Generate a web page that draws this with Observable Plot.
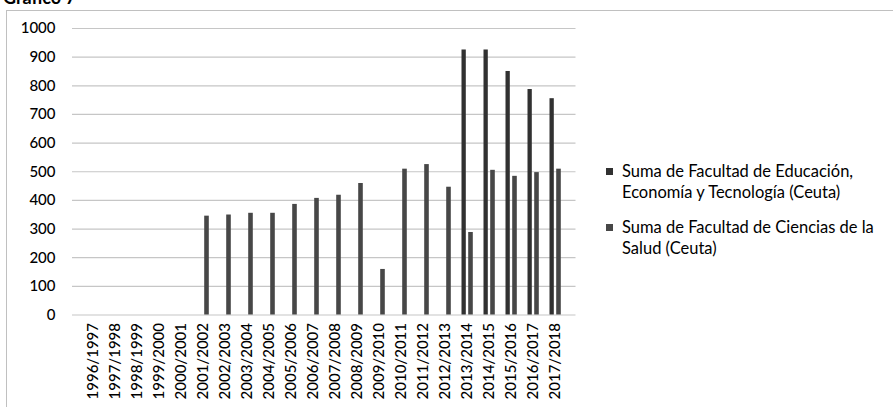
<!DOCTYPE html>
<html>
<head>
<meta charset="utf-8">
<script src="https://cdn.jsdelivr.net/npm/d3@7"></script>
<script src="https://cdn.jsdelivr.net/npm/@observablehq/plot@0.6"></script>
<style>
  html, body { margin: 0; padding: 0; background: #fff; overflow: hidden; }
  body { width: 893px; height: 407px; position: relative; font-family: Lato, "Open Sans", sans-serif; }
  #title { position: absolute; left: 3px; top: -14px; font-size: 18px; font-weight: bold; color: #000; white-space: nowrap; }
  #frame { position: absolute; left: 6px; top: 10px; width: 950px; height: 450px; border: 1px solid #c0c0c0; box-sizing: border-box; }
  #chart { position: absolute; left: 0; top: 0; }
  #legend { position: absolute; left: 606px; top: 161px; font-size: 16.5px; color: #000; line-height: 21px; }
  .item { position: relative; padding-left: 16px; margin-bottom: 14px; white-space: nowrap; }
  .sw { position: absolute; left: 0; top: 7px; width: 7px; height: 7px; }
</style>
</head>
<body>
<div id="frame"></div>
<div id="title">Gráfico 7</div>
<div id="chart"></div>
<div id="legend"></div>
<script>
const categories = ["1996/1997","1997/1998","1998/1999","1999/2000","2000/2001","2001/2002","2002/2003","2003/2004","2004/2005","2005/2006","2006/2007","2007/2008","2008/2009","2009/2010","2010/2011","2011/2012","2012/2013","2013/2014","2014/2015","2015/2016","2016/2017","2017/2018"];
const educacion = [null,null,null,null,null,null,null,null,null,null,null,null,null,null,null,null,null,925,925,850,787,755];
const salud = [null,null,null,null,null,345,349,355,355,386,407,418,459,159,509,525,446,288,505,484,497,509];
const seriesNames = ["Suma de Facultad de Educación, Economía y Tecnología (Ceuta)", "Suma de Facultad de Ciencias de la Salud (Ceuta)"];
const seriesColors = ["#313131", "#474747"];
const yTicks = [0,100,200,300,400,500,600,700,800,900,1000];

const d1 = categories.map((c, i) => ({cat: c, value: educacion[i]})).filter(d => d.value != null);
const d2 = categories.map((c, i) => ({cat: c, value: salud[i]})).filter(d => d.value != null);

const chart = Plot.plot({
  width: 893,
  height: 407,
  marginLeft: 72,
  marginRight: 317.5,
  marginTop: 28,
  marginBottom: 92.5,
  style: { fontFamily: "Lato, 'Open Sans', sans-serif", fontSize: "15px", color: "#000", background: "transparent" },
  x: { domain: categories, padding: 0 },
  y: { domain: [0, 1000] },
  marks: [
    Plot.gridY(yTicks, { stroke: "#c6c6c6", strokeOpacity: 1, strokeWidth: 1.2 }),
    Plot.barY(d1, { x: "cat", y: "value", fill: seriesColors[0], insetLeft: 5.5, insetRight: 12.2 }),
    Plot.barY(d2, { x: "cat", y: "value", fill: seriesColors[1], insetLeft: 12.2, insetRight: 5.2 }),
    Plot.axisY(yTicks, { tickSize: 0, tickPadding: 17, label: null, fontSize: 15, fill: "#000", fontWeight: 500, tickFormat: d => String(d) }),
    Plot.axisX({ tickSize: 0, tickPadding: 8, tickRotate: -90, label: null, fontSize: 15, fill: "#000", fontWeight: 500 })
  ]
});
document.getElementById("chart").appendChild(chart);

const legend = document.getElementById("legend");
const legendLines = [["Suma de Facultad de Educación,", "Economía y Tecnología (Ceuta)"], ["Suma de Facultad de Ciencias de la", "Salud (Ceuta)"]];
legendLines.forEach((lines, i) => {
  const it = document.createElement("div");
  it.className = "item";
  it.title = seriesNames[i];
  const sw = document.createElement("span");
  sw.className = "sw";
  sw.style.background = seriesColors[i];
  it.appendChild(sw);
  lines.forEach(l => { const s = document.createElement("div"); s.textContent = l; it.appendChild(s); });
  legend.appendChild(it);
});
</script>
</body>
</html>
